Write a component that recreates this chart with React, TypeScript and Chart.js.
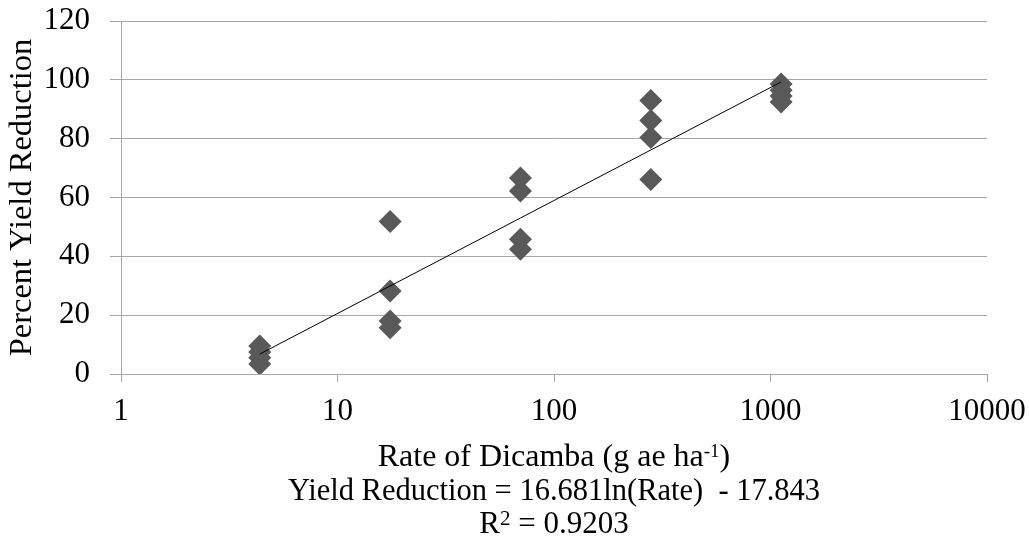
import React, { useEffect, useRef } from 'react';
import { Chart, registerables } from 'chart.js';

Chart.register(...registerables);

// ---- data ----
const pointRates = [
  4.375, 4.375, 4.375, 4.375,
  17.5, 17.5, 17.5, 17.5,
  70, 70, 70, 70,
  280, 280, 280, 280,
  1120, 1120, 1120, 1120,
];
const pointYields = [
  9.5, 7.5, 5.5, 3.4,
  51.8, 28.2, 18.0, 15.7,
  66.6, 62.2, 45.8, 42.4,
  93.0, 86.2, 80.4, 66.1,
  98.6, 96.5, 94.5, 92.5,
];
const trendRates = [4.375, 1120];
const trendYields = [6.78, 99.27];
const xTickValues = [1, 10, 100, 1000, 10000];
const yTickValues = [0, 20, 40, 60, 80, 100, 120];

const yTitle = 'Percent Yield Reduction';
const xTitleMain = 'Rate of Dicamba (g ae ha';
const xTitleSup = '-1';
const xTitleTail = ')';
const equationText = 'Yield Reduction = 16.681ln(Rate)  - 17.843';
const r2Main = 'R';
const r2Sup = '2';
const r2Tail = ' = 0.9203';

const FONT = "'Liberation Serif', 'Times New Roman', serif";
const GRID = '#a6a6a6';
const MARK = '#595959';

const bottomTextPlugin = {
  id: 'bottomText',
  afterDraw(chart: any) {
    const ctx = chart.ctx as CanvasRenderingContext2D;
    const area = chart.chartArea;
    const cx = (area.left + area.right) / 2;
    ctx.save();
    ctx.fillStyle = '#000';
    ctx.textBaseline = 'alphabetic';
    ctx.textAlign = 'left';

    const drawSup = (main: string, sup: string, tail: string, baseline: number, size: number, supSize: number, rise: number) => {
      ctx.font = `${size}px ${FONT}`;
      const w1 = ctx.measureText(main).width;
      const w3 = ctx.measureText(tail).width;
      ctx.font = `${supSize}px ${FONT}`;
      const w2 = ctx.measureText(sup).width;
      let x = cx - (w1 + w2 + w3) / 2;
      ctx.font = `${size}px ${FONT}`;
      ctx.fillText(main, x, baseline);
      x += w1;
      ctx.font = `${supSize}px ${FONT}`;
      ctx.fillText(sup, x, baseline - rise);
      x += w2;
      ctx.font = `${size}px ${FONT}`;
      ctx.fillText(tail, x, baseline);
    };

    drawSup(xTitleMain, xTitleSup, xTitleTail, 466, 32, 19, 9);

    ctx.font = `30.5px ${FONT}`;
    ctx.textAlign = 'center';
    ctx.fillText(equationText, cx, 500);
    ctx.textAlign = 'left';

    drawSup(r2Main, r2Sup, r2Tail, 533, 31, 21, 8);
    ctx.restore();
  },
};

export default function App() {
  const canvasRef = useRef<HTMLCanvasElement | null>(null);

  useEffect(() => {
    if (!canvasRef.current) return;
    const chart = new Chart(canvasRef.current, {
      type: 'scatter',
      data: {
        datasets: [
          {
            label: 'Trend',
            data: trendRates.map((x, i) => ({ x, y: trendYields[i] })),
            showLine: true,
            borderColor: '#000',
            borderWidth: 1,
            pointRadius: 0,
            pointHoverRadius: 0,
            fill: false,
          },
          {
            label: 'Yield Reduction',
            data: pointRates.map((x, i) => ({ x, y: pointYields[i] })),
            pointStyle: 'rectRot',
            pointRadius: 11.5,
            pointHoverRadius: 11.5,
            backgroundColor: MARK,
            borderColor: MARK,
            borderWidth: 0,
            showLine: false,
          },
        ],
      },
      options: {
        responsive: false,
        animation: false,
        layout: { padding: { top: 21, right: 42, left: 0, bottom: 0 } },
        plugins: {
          legend: { display: false },
          tooltip: { enabled: false },
        },
        scales: {
          x: {
            type: 'logarithmic',
            min: 1,
            max: 10000,
            afterBuildTicks: (scale: any) => {
              scale.ticks = xTickValues.map((v) => ({ value: v }));
            },
            afterFit: (scale: any) => {
              scale.height = 172;
              scale.paddingLeft = 0;
              scale.paddingRight = 0;
            },
            ticks: {
              autoSkip: false,
              maxRotation: 0,
              color: '#000',
              font: { family: FONT, size: 31 },
              padding: 11,
              callback: (v: any) => String(v),
            },
            grid: {
              drawOnChartArea: false,
              drawTicks: true,
              tickLength: 8,
              color: GRID,
            },
            border: { display: true, color: GRID },
          },
          y: {
            min: 0,
            max: 120,
            afterBuildTicks: (scale: any) => {
              scale.ticks = yTickValues.map((v) => ({ value: v }));
            },
            afterFit: (scale: any) => {
              scale.width = 121;
              scale.paddingTop = 0;
              scale.paddingBottom = 0;
            },
            ticks: {
              color: '#000',
              font: { family: FONT, size: 31 },
              padding: 20,
              callback: (v: any) => String(v),
            },
            grid: {
              color: GRID,
              drawTicks: true,
              tickLength: 11,
            },
            border: { display: true, color: GRID },
            title: {
              display: true,
              text: yTitle,
              color: '#000',
              font: { family: FONT, size: 32.5, lineHeight: 1 },
              padding: { top: 6, bottom: 0 },
            },
          },
        },
      },
      plugins: [bottomTextPlugin],
    });
    return () => chart.destroy();
  }, []);

  return (
    <div style={{ position: 'absolute', left: 0, top: 0, width: 1029, height: 546, background: '#fff' }}>
      <canvas ref={canvasRef} width={1029} height={546} style={{ display: 'block' }} />
    </div>
  );
}
